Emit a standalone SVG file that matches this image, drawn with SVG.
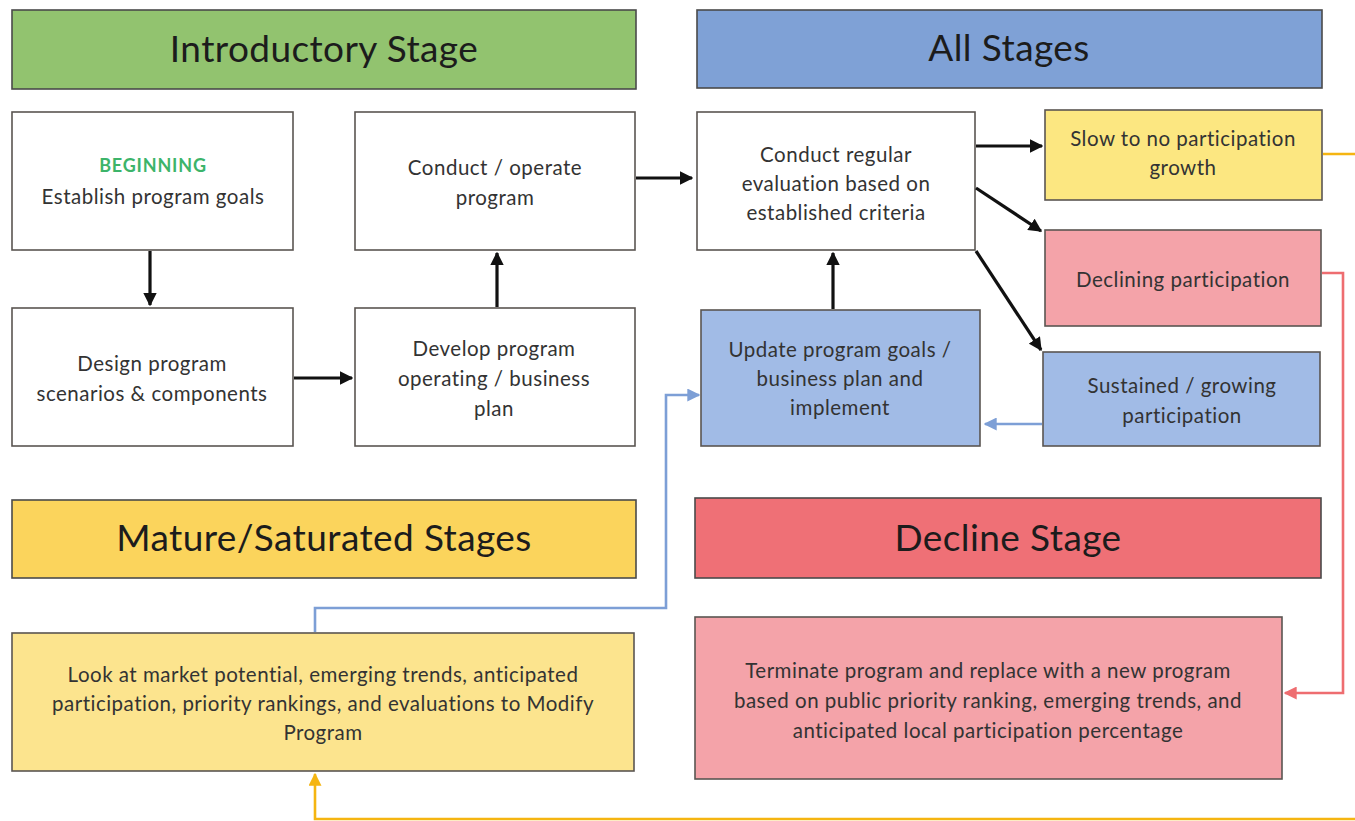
<svg xmlns="http://www.w3.org/2000/svg" width="1355" height="821" viewBox="0 0 1355 821">
<style>
.box{stroke:#5a5552;stroke-width:1.6}
.hdr{stroke:#4a4a4a;stroke-width:1.6}
.t{font-family:Lato,"Open Sans","Liberation Sans",sans-serif;font-size:20.5px;letter-spacing:0.5px;fill:#333;text-anchor:middle}
.h{font-family:Lato,"Open Sans","Liberation Sans",sans-serif;font-size:37px;letter-spacing:0.4px;fill:#1c1c1c;text-anchor:middle}
.k{stroke:#111;stroke-width:3.2;fill:none}
.b{stroke:#7d9fd6;stroke-width:2.6;fill:none}
.r{stroke:#ee6d70;stroke-width:2.6;fill:none}
.o{stroke:#f5b511;stroke-width:2.6;fill:none}
</style>
<defs>
<marker id="ak" viewBox="0 0 10 10" refX="9" refY="5" markerWidth="4.2" markerHeight="4.2" orient="auto" markerUnits="strokeWidth"><path d="M0,0L10,5L0,10z" fill="#111"/></marker>
<marker id="ab" viewBox="0 0 10 10" refX="9" refY="5" markerWidth="5" markerHeight="5" orient="auto" markerUnits="strokeWidth"><path d="M0,0L10,5L0,10z" fill="#7d9fd6"/></marker>
<marker id="ar" viewBox="0 0 10 10" refX="9" refY="5" markerWidth="5" markerHeight="5" orient="auto" markerUnits="strokeWidth"><path d="M0,0L10,5L0,10z" fill="#ee6d70"/></marker>
<marker id="ao" viewBox="0 0 10 10" refX="9" refY="5" markerWidth="5" markerHeight="5" orient="auto" markerUnits="strokeWidth"><path d="M0,0L10,5L0,10z" fill="#f5b511"/></marker>
</defs>
<rect width="1355" height="821" fill="#ffffff"/>

<g id="hdr-intro"><rect class="hdr" x="12" y="10" width="624" height="79" fill="#92c36f"/><text class="h" x="324" y="62">Introductory Stage</text></g>
<g id="hdr-all"><rect class="hdr" x="697" y="10" width="625" height="78" fill="#7fa1d6"/><text class="h" x="1009" y="61">All Stages</text></g>
<g id="hdr-mature"><rect class="hdr" x="12" y="500" width="624" height="78" fill="#fbd45c"/><text class="h" x="324" y="551">Mature/Saturated Stages</text></g>
<g id="hdr-decline"><rect class="hdr" x="695" y="498" width="626" height="80" fill="#ef7076"/><text class="h" x="1008" y="551">Decline Stage</text></g>

<g id="n-beginning"><rect class="box" x="12" y="112" width="281" height="138" fill="#fff"/>
<text class="t" x="153" y="172" style="font-weight:bold;font-size:18px;letter-spacing:0.8px;fill:#3cb46a">BEGINNING</text>
<text class="t" x="153" y="204">Establish program goals</text></g>
<g id="n-conduct"><rect class="box" x="355" y="112" width="280" height="138" fill="#fff"/>
<text class="t" x="495" y="175">Conduct / operate</text><text class="t" x="495" y="205">program</text></g>
<g id="n-design"><rect class="box" x="12" y="308" width="281" height="138" fill="#fff"/>
<text class="t" x="152" y="371">Design program</text><text class="t" x="152" y="401">scenarios &amp; components</text></g>
<g id="n-develop"><rect class="box" x="355" y="308" width="280" height="138" fill="#fff"/>
<text class="t" x="494" y="356">Develop program</text><text class="t" x="494" y="386">operating / business</text><text class="t" x="494" y="416">plan</text></g>
<g id="n-eval"><rect class="box" x="697" y="112" width="278" height="138" fill="#fff"/>
<text class="t" x="836" y="162">Conduct regular</text><text class="t" x="836" y="191">evaluation based on</text><text class="t" x="836" y="220">established criteria</text></g>
<g id="n-slow"><rect class="box" x="1045" y="110" width="277" height="90" fill="#fce781"/>
<text class="t" x="1183" y="146">Slow to no participation</text><text class="t" x="1183" y="175">growth</text></g>
<g id="n-declining"><rect class="box" x="1045" y="230" width="276" height="96" fill="#f4a3a9"/>
<text class="t" x="1183" y="287">Declining participation</text></g>
<g id="n-sustained"><rect class="box" x="1043" y="352" width="277" height="94" fill="#a1bbe6"/>
<text class="t" x="1182" y="393">Sustained / growing</text><text class="t" x="1182" y="423">participation</text></g>
<g id="n-update"><rect class="box" x="701" y="310" width="279" height="136" fill="#a1bbe6"/>
<text class="t" x="840" y="357">Update program goals /</text><text class="t" x="840" y="386">business plan and</text><text class="t" x="840" y="415">implement</text></g>
<g id="n-lookat"><rect class="box" x="12" y="633" width="622" height="138" fill="#fce48e"/>
<text class="t" x="323" y="682">Look at market potential, emerging trends, anticipated</text><text class="t" x="323" y="711">participation, priority rankings, and evaluations to Modify</text><text class="t" x="323" y="740">Program</text></g>
<g id="n-terminate"><rect class="box" x="695" y="617" width="587" height="162" fill="#f4a3a9"/>
<text class="t" x="988" y="678">Terminate program and replace with a new program</text><text class="t" x="988" y="708">based on public priority ranking, emerging trends, and</text><text class="t" x="988" y="738">anticipated local participation percentage</text></g>

<g id="connectors">
<path class="k" d="M150,251V305" marker-end="url(#ak)"/>
<path class="k" d="M294,378H352" marker-end="url(#ak)"/>
<path class="k" d="M497,307V253" marker-end="url(#ak)"/>
<path class="k" d="M636,178H692" marker-end="url(#ak)"/>
<path class="k" d="M976,146H1042" marker-end="url(#ak)"/>
<path class="k" d="M976,188L1041,231" marker-end="url(#ak)"/>
<path class="k" d="M976,251L1041,350" marker-end="url(#ak)"/>
<path class="k" d="M833,309V253" marker-end="url(#ak)"/>
<path class="b" d="M1042,424H985" marker-end="url(#ab)"/>
<path class="b" d="M315,632V608H666V395H699" marker-end="url(#ab)"/>
<path class="r" d="M1322,273H1343V693H1285" marker-end="url(#ar)"/>
<path class="o" d="M1323,154H1360"/>
<path class="o" d="M1360,819H315V774" marker-end="url(#ao)"/>
</g>
</svg>
